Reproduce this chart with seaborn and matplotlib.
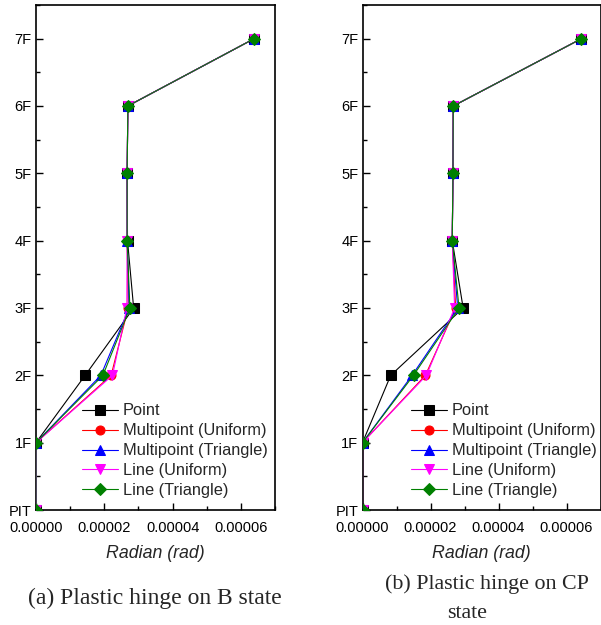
import numpy as np
import pandas as pd
import matplotlib
matplotlib.use("Agg")
import matplotlib.pyplot as plt
import seaborn as sns
from matplotlib.ticker import MultipleLocator, FixedLocator

sns.set_theme(style="white")
plt.rcParams['font.family'] = ['Liberation Sans', 'DejaVu Sans']

floors = [0, 1, 2, 3, 4, 5, 6, 7]
floor_labels = ["PIT", "1F", "2F", "3F", "4F", "5F", "6F", "7F"]
methods = ["Point", "Multipoint (Uniform)", "Multipoint (Triangle)",
           "Line (Uniform)", "Line (Triangle)"]

# (a) B state
b_point = [0, 0, 1.44e-5, 2.86e-5, 2.68e-5, 2.67e-5, 2.69e-5, 6.39e-5]
b_mp_uni = [0, 0, 2.20e-5, 2.70e-5, 2.67e-5, 2.67e-5, 2.69e-5, 6.39e-5]
b_mp_tri = [0, 0, 1.90e-5, 2.73e-5, 2.67e-5, 2.67e-5, 2.69e-5, 6.39e-5]
b_ln_uni = [0, 0, 2.24e-5, 2.66e-5, 2.67e-5, 2.67e-5, 2.69e-5, 6.39e-5]
b_ln_tri = [0, 0, 1.96e-5, 2.75e-5, 2.67e-5, 2.67e-5, 2.69e-5, 6.39e-5]

# (b) CP state
cp_point = [0, 0, 0.83e-5, 2.96e-5, 2.64e-5, 2.66e-5, 2.67e-5, 6.44e-5]
cp_mp_uni = [0, 0, 1.85e-5, 2.74e-5, 2.64e-5, 2.66e-5, 2.67e-5, 6.44e-5]
cp_mp_tri = [0, 0, 1.46e-5, 2.80e-5, 2.64e-5, 2.66e-5, 2.67e-5, 6.44e-5]
cp_ln_uni = [0, 0, 1.88e-5, 2.71e-5, 2.64e-5, 2.66e-5, 2.67e-5, 6.44e-5]
cp_ln_tri = [0, 0, 1.50e-5, 2.84e-5, 2.64e-5, 2.66e-5, 2.67e-5, 6.44e-5]

colors = ["#000000", "#ff0000", "#0000ff", "#ff00ff", "#008000"]
markers = ["s", "o", "^", "v", "D"]
msizes = [7, 6.5, 7, 7.5, 6]


def make_df(series):
    rows = []
    for m, vals in zip(methods, series):
        for f, v in zip(floors, vals):
            rows.append({"method": m, "floor": f, "rad": v})
    return pd.DataFrame(rows)


fig = plt.figure(figsize=(6.01, 6.25), dpi=100)
axA = fig.add_axes([36 / 601, 1 - 510 / 625, 239 / 601, 505 / 625])
axB = fig.add_axes([362.5 / 601, 1 - 510 / 625, 238 / 601, 505 / 625])

panels = [
    (axA, [b_point, b_mp_uni, b_mp_tri, b_ln_uni, b_ln_tri], 82),
    (axB, [cp_point, cp_mp_uni, cp_mp_tri, cp_ln_uni, cp_ln_tri], 411),
]

for ax, series, leg_x in panels:
    df = make_df(series)
    for i, m in enumerate(methods):
        sub = df[df["method"] == m]
        sns.lineplot(data=sub, x="rad", y="floor", ax=ax, sort=False,
                     estimator=None, color=colors[i], marker=markers[i],
                     markersize=msizes[i], markeredgecolor=colors[i],
                     linewidth=0.8, label=m, zorder=2 + i)
    ax.set_xlim(0, 0.00007)
    ax.set_ylim(0, 7.5)
    ax.xaxis.set_major_locator(FixedLocator([0, 0.00002, 0.00004, 0.00006]))
    ax.xaxis.set_minor_locator(MultipleLocator(0.00001))
    ax.set_xticklabels(["0.00000", "0.00002", "0.00004", "0.00006"])
    ax.yaxis.set_major_locator(FixedLocator(floors))
    ax.yaxis.set_minor_locator(MultipleLocator(0.5))
    ax.set_yticklabels(floor_labels)
    ax.tick_params(which="both", direction="in", left=True, bottom=True,
                   top=False, right=False, labelsize=10.5, colors="#000000")
    ax.tick_params(axis="x", pad=8)
    ax.tick_params(axis="y", pad=3)
    ax.tick_params(which="major", length=5, width=1)
    ax.tick_params(which="minor", length=3, width=1)
    for s in ax.spines.values():
        s.set_linewidth(1.2)
        s.set_color("#000000")
    ax.set_xlabel("Radian (rad)", fontsize=12.8, fontstyle="italic",
                  labelpad=7)
    ax.set_ylabel("")
    # legend
    ax_x0 = ax.get_position().x0 * 601
    ax_w = ax.get_position().width * 601
    lx = (leg_x - ax_x0) / ax_w
    leg = ax.legend(loc="upper left", bbox_to_anchor=(lx, 0.211),
                    frameon=False, fontsize=11.8, borderpad=0,
                    borderaxespad=0, handlelength=2.2, handletextpad=0.3,
                    labelspacing=0.3)

fig.text(154.5 / 601, 1 - 598 / 625, "(a) Plastic hinge on B state",
         family="Liberation Serif", fontsize=17, ha="center", va="center")
fig.text(486.5 / 601, 1 - 584 / 625, "(b) Plastic hinge on CP",
         family="Liberation Serif", fontsize=15.8, ha="center", va="center")
fig.text(466.7 / 601, 1 - 613 / 625, "state",
         family="Liberation Serif", fontsize=15.8, ha="center", va="center")

fig.savefig("out.png", dpi=100)
